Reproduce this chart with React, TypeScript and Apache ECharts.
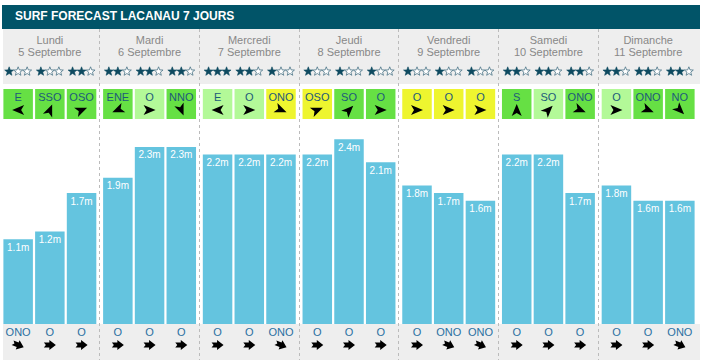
import React, { useEffect, useRef } from "react";
import * as echarts from "echarts";

const title = "SURF FORECAST LACANAU 7 JOURS";
const days = ["Lundi", "Mardi", "Mercredi", "Jeudi", "Vendredi", "Samedi", "Dimanche"];
const dates = ["5 Septembre", "6 Septembre", "7 Septembre", "8 Septembre", "9 Septembre", "10 Septembre", "11 Septembre"];
const slots = ["Matin", "Après-midi", "Soir"];
const waveHeights = [
  [1.1, 1.2, 1.7],
  [1.9, 2.3, 2.3],
  [2.2, 2.2, 2.2],
  [2.2, 2.4, 2.1],
  [1.8, 1.7, 1.6],
  [2.2, 2.2, 1.7],
  [1.8, 1.6, 1.6],
];
const starRatings = [
  [1, 1, 2],
  [2, 2, 2],
  [3, 2, 1],
  [1, 1, 1],
  [1, 1, 1],
  [2, 2, 2],
  [2, 2, 2],
];
const windDirections = [
  ["E", "SSO", "OSO"],
  ["ENE", "O", "NNO"],
  ["E", "O", "ONO"],
  ["OSO", "SO", "O"],
  ["O", "O", "O"],
  ["S", "SO", "ONO"],
  ["O", "ONO", "NO"],
];
// g = offshore green, l = light green, y = yellow
const windQuality = [
  ["g", "g", "g"],
  ["g", "l", "g"],
  ["l", "l", "y"],
  ["y", "g", "g"],
  ["y", "y", "y"],
  ["g", "l", "g"],
  ["l", "g", "g"],
];
const swellDirections = [
  ["ONO", "O", "O"],
  ["O", "O", "O"],
  ["O", "O", "ONO"],
  ["O", "O", "O"],
  ["O", "ONO", "ONO"],
  ["O", "O", "O"],
  ["O", "O", "ONO"],
];

const bearings: Record<string, number> = {
  N: 0, NNE: 22.5, NE: 45, ENE: 67.5, E: 90, ESE: 112.5, SE: 135, SSE: 157.5,
  S: 180, SSO: 202.5, SO: 225, OSO: 247.5, O: 270, ONO: 292.5, NO: 315, NNO: 337.5,
};
const qualityColors: Record<string, string> = { g: "#66e044", l: "#b3f998", y: "#eef52f" };

const FONT = '"Liberation Sans", Arial, sans-serif';
const BAR_W = 29.5;
const BAR_GAP = 0.075;
const PITCH = BAR_W * (1 + BAR_GAP);
const GRID_BOTTOM_Y = 324;
const PX_PER_M = 77;
const Y_MAX = 2.6;

const windArrowPath = "M-6,-5 L6,0 L-6,5 L-3,0 Z";
const swellArrowPath = "M-6,-2.5 L-0.5,-2.5 L-0.5,-5 L6,0 L-0.5,5 L-0.5,2.5 L-6,2.5 L-4,0 Z";

function rot(dir: string) {
  const to = (bearings[dir] + 180) % 360;
  return (-(to - 90) * Math.PI) / 180;
}

function starPoints(cx: number, cy: number, R: number, r: number) {
  const pts: number[][] = [];
  for (let i = 0; i < 10; i++) {
    const a = -Math.PI / 2 + (i * Math.PI) / 5;
    const rad = i % 2 === 0 ? R : r;
    pts.push([cx + rad * Math.cos(a), cy + rad * Math.sin(a)]);
  }
  return pts;
}

export default function App() {
  const ref = useRef<HTMLDivElement>(null);
  useEffect(() => {
    if (!ref.current) return;
    const chart = echarts.init(ref.current, null, { renderer: "svg" });
    const gridTop = GRID_BOTTOM_Y - PX_PER_M * Y_MAX;
    const overlayData: number[][] = [];
    days.forEach((_, d) => slots.forEach((__, s) => overlayData.push([d, s])));

    const option: any = {
      animation: false,
      backgroundColor: "#ffffff",
      title: {
        text: title,
        left: 15,
        top: 9,
        padding: 0,
        textStyle: { color: "#ffffff", fontSize: 12, fontWeight: "bold", fontFamily: FONT, lineHeight: 14 },
      },
      graphic: {
        elements: [
          { type: "rect", z: -1, shape: { x: 2, y: 5, width: 698, height: 24 }, style: { fill: "#015468" } },
          { type: "rect", z: -1, shape: { x: 3, y: 29, width: 697, height: 55 }, style: { fill: "#eeeeee" } },
          { type: "rect", z: -1, shape: { x: 3, y: 324, width: 697, height: 36 }, style: { fill: "#eeeeee" } },
        ],
      },
      grid: { left: 0, width: 698, top: gridTop, height: GRID_BOTTOM_Y - gridTop },
      xAxis: {
        type: "category",
        position: "top",
        z: 3,
        data: days.map((d, i) => d + "\n" + dates[i]),
        axisLine: { show: false },
        axisTick: { show: false },
        splitLine: { show: false },
        axisLabel: {
          interval: 0,
          margin: 65.4,
          color: "#888888",
          fontSize: 11,
          lineHeight: 12.3,
          fontFamily: FONT,
        },
      },
      yAxis: { type: "value", min: 0, max: Y_MAX, show: false, splitLine: { show: false } },
      series: [
        ...slots.map((name, s) => ({
          name,
          type: "bar",
          data: waveHeights.map((d) => d[s]),
          barWidth: BAR_W,
          barGap: BAR_GAP * 100 + "%",
          itemStyle: { color: "#64c4df" },
          label: {
            show: true,
            position: "insideTop",
            distance: 3,
            color: "#ffffff",
            fontSize: 10,
            fontFamily: FONT,
            formatter: (p: any) => p.value + "m",
          },
        })),
        {
          type: "custom",
          clip: false,
          z: 4,
          data: overlayData,
          encode: { x: 0, y: 1 },
          renderItem: (params: any, api: any) => {
            const d = api.value(0) as number;
            const s = api.value(1) as number;
            const base = api.coord([d, 0]);
            const catW = api.size([1, 0])[0];
            const cx = base[0] + (s - 1) * PITCH;
            const left = cx - BAR_W / 2;
            const n = starRatings[d][s];
            const wd = windDirections[d][s];
            const sd = swellDirections[d][s];
            const children: any[] = [];
            if (s === 0 && d > 0) {
              const lx = Math.floor(base[0] - catW / 2) + 0.5;
              children.push({
                type: "line",
                shape: { x1: lx, y1: 29, x2: lx, y2: 360 },
                style: { stroke: "#bbbbbb", lineWidth: 1, lineDash: [3, 3] },
              });
            }
            for (let k = 0; k < 3; k++) {
              const filled = k < n;
              children.push({
                type: "polygon",
                shape: { points: starPoints(cx + (k - 1) * 9, 71.5, 4.7, 2.0) },
                style: filled
                  ? { fill: "#0e4a60", stroke: "#0e4a60", lineWidth: 0.6 }
                  : { fill: "#ffffff", stroke: "#4a7486", lineWidth: 0.8 },
              });
            }
            children.push({
              type: "rect",
              shape: { x: left, y: 89, width: BAR_W, height: 30 },
              style: { fill: qualityColors[windQuality[d][s]] },
            });
            children.push({
              type: "text",
              x: cx,
              y: 97,
              style: {
                text: wd, fill: "#1d5a7a", font: "11px " + FONT,
                align: "center", verticalAlign: "middle", textAlign: "center", textVerticalAlign: "middle",
              },
            });
            children.push({
              type: "path",
              x: cx,
              y: 110,
              rotation: rot(wd),
              shape: { pathData: windArrowPath },
              style: { fill: "#000000" },
            });
            children.push({
              type: "text",
              x: cx,
              y: 332,
              style: {
                text: sd, fill: "#2a70a2", font: "11px " + FONT,
                align: "center", verticalAlign: "middle", textAlign: "center", textVerticalAlign: "middle",
              },
            });
            children.push({
              type: "path",
              x: cx,
              y: 345,
              rotation: rot(sd),
              shape: { pathData: swellArrowPath },
              style: { fill: "#000000" },
            });
            return { type: "group", children };
          },
        },
      ],
    };
    chart.setOption(option);
    return () => chart.dispose();
  }, []);
  return (
    <div
      ref={ref}
      style={{ position: "fixed", left: 0, top: 0, width: 702, height: 364, background: "#fff" }}
    />
  );
}
